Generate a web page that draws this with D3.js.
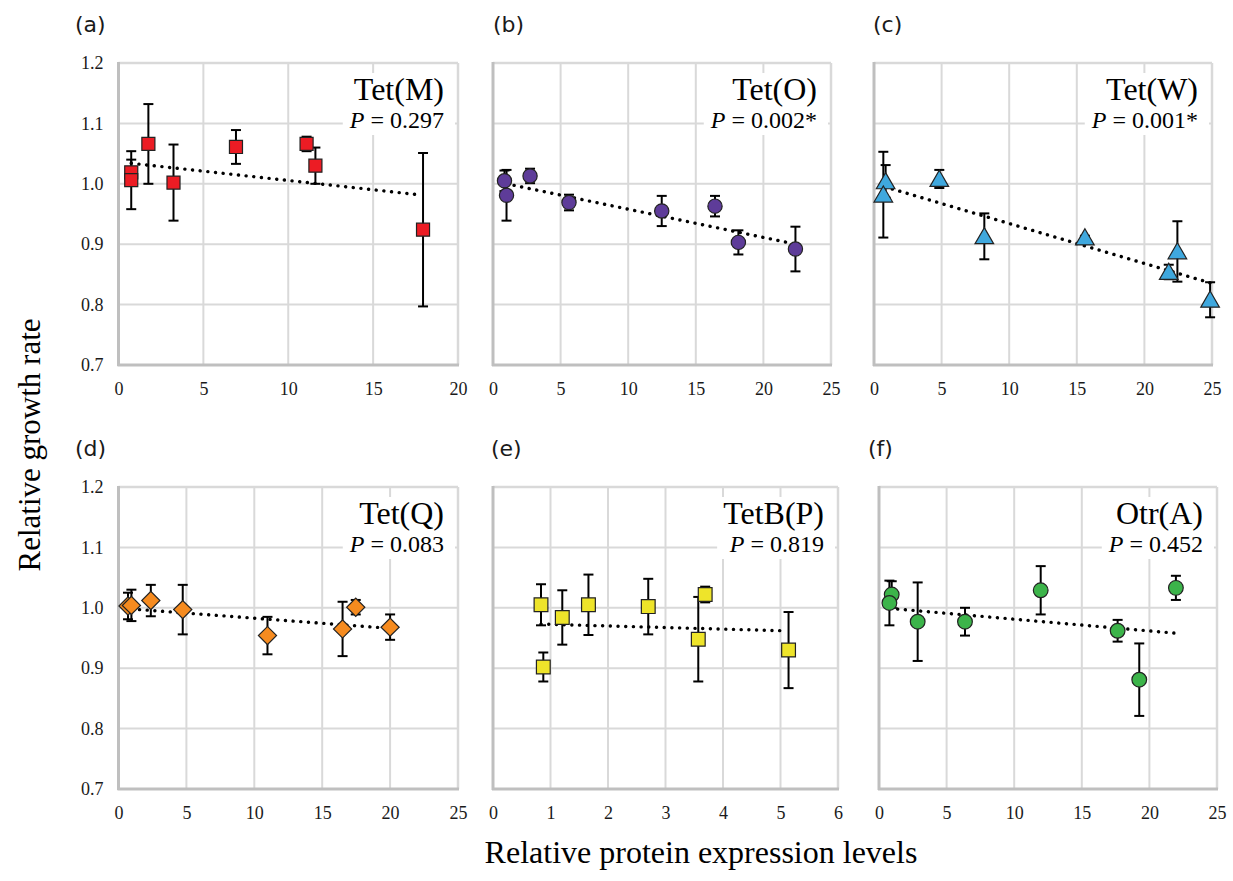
<!DOCTYPE html>
<head>
  <meta charset="utf-8">
  <script src="https://d3js.org/d3.v7.min.js"></script>
  <style>
    body { margin:0; background:#fff; }
    svg { display:block; }
  </style>
</head>
<body>
  <script>
    // panel names, P values, x ranges
    var panelTags = ["(a)", "(b)", "(c)", "(d)", "(e)", "(f)"];
    var proteins = ["Tet(M)", "Tet(O)", "Tet(W)", "Tet(Q)", "TetB(P)", "Otr(A)"];
    var pValues = ["0.297", "0.002*", "0.001*", "0.083", "0.819", "0.452"];
    var xMaxes = [20, 25, 25, 25, 6, 25];
    var xSteps = [5, 5, 5, 5, 1, 5];
    var yTicks = [0.7, 0.8, 0.9, 1.0, 1.1, 1.2];

    // (a) Tet(M)
    var tetM_x = [0.75, 0.75, 1.76, 3.24, 6.92, 11.08, 11.6, 17.94];
    var tetM_y = [1.019, 1.006, 1.066, 1.002, 1.061, 1.066, 1.030, 0.924];
    var tetM_e = [0.021, 0.048, 0.066, 0.063, 0.028, 0.012, 0.030, 0.127];
    var tetM_trend = [[0.75, 1.034], [17.65, 0.982]];

    // (b) Tet(O)
    var tetO_x = [0.85, 1.0, 2.74, 5.62, 12.48, 16.42, 18.15, 22.37];
    var tetO_y = [1.005, 0.981, 1.013, 0.969, 0.955, 0.963, 0.903, 0.892];
    var tetO_e = [0.017, 0.042, 0.012, 0.013, 0.025, 0.017, 0.02, 0.037];
    var tetO_trend = [[1.0, 1.0], [21.97, 0.902]];

    // (c) Tet(W)
    var tetW_x = [0.86, 0.69, 4.83, 8.16, 15.6, 21.8, 22.44, 24.86];
    var tetW_y = [1.004, 0.982, 1.008, 0.913, 0.911, 0.854, 0.888, 0.808];
    var tetW_e = [0.027, 0.071, 0.015, 0.038, 0.003, 0.012, 0.05, 0.029];
    var tetW_trend = [[0.81, 0.995], [24.86, 0.836]];

    // (d) Tet(Q)
    var tetQ_x = [0.7, 0.95, 2.38, 4.73, 10.97, 16.5, 17.47, 20.0];
    var tetQ_y = [1.003, 1.004, 1.012, 0.997, 0.954, 0.965, 1.001, 0.968];
    var tetQ_e = [0.022, 0.026, 0.026, 0.041, 0.031, 0.045, 0.012, 0.021];
    var tetQ_trend = [[0.98, 0.998], [20.0, 0.966]];

    // (e) TetB(P)
    var tetBP_x = [0.835, 0.875, 1.205, 1.66, 2.70, 3.69, 3.57, 5.14];
    var tetBP_y = [1.005, 0.902, 0.984, 1.005, 1.002, 1.022, 0.948, 0.930];
    var tetBP_e = [0.034, 0.024, 0.045, 0.05, 0.046, 0.013, 0.07, 0.063];
    var tetBP_trend = [[0.835, 0.973], [5.05, 0.962]];

    // (f) Otr(A)
    var otrA_x = [0.94, 0.77, 2.86, 6.36, 11.96, 17.65, 19.25, 21.96];
    var otrA_y = [1.022, 1.008, 0.977, 0.977, 1.029, 0.962, 0.881, 1.033];
    var otrA_e = [0.022, 0.037, 0.065, 0.023, 0.04, 0.018, 0.06, 0.02];
    var otrA_trend = [[0.81, 0.999], [21.9, 0.958]];

    var seriesX = [tetM_x, tetO_x, tetW_x, tetQ_x, tetBP_x, otrA_x];
    var seriesY = [tetM_y, tetO_y, tetW_y, tetQ_y, tetBP_y, otrA_y];
    var seriesE = [tetM_e, tetO_e, tetW_e, tetQ_e, tetBP_e, otrA_e];
    var trends = [tetM_trend, tetO_trend, tetW_trend, tetQ_trend, tetBP_trend, otrA_trend];

    // look
    var fills = ["#ec1c24", "#5e3c99", "#3fa8de", "#f68b1f", "#eee42a", "#3cb44a"];
    var shapes = [d3.symbolSquare, d3.symbolCircle, d3.symbolTriangle, d3.symbolSquare, d3.symbolSquare, d3.symbolCircle];
    var shapeRot = [0, 0, 0, 45, 0, 0];
    var shapeSizes = [170, 160, 150, 165, 190, 170];

    // layout
    var width = 1233, height = 881;
    var lefts = [118.5, 493, 874, 118.5, 493, 879];
    var rights = [458, 831, 1212, 458, 838, 1217];
    var tops = [63, 63, 63, 487, 487, 487];
    var plotH = 302;
    var tagX = [75, 493, 873, 75, 491, 868];

    var serif = "'Liberation Serif', 'Times New Roman', serif";
    var gridCol = "#d9d9d9", axisCol = "#bfbfbf";

    var svg = d3.select("body").append("svg")
      .attr("width", width)
      .attr("height", height);

    proteins.forEach(function(name, i) {
      var x = d3.scaleLinear().domain([0, xMaxes[i]]).range([lefts[i], rights[i]]);
      var y = d3.scaleLinear().domain([0.7, 1.2]).range([tops[i] + plotH, tops[i]]);
      var g = svg.append("g");
      var xt = d3.range(0, xMaxes[i] + 0.001, xSteps[i]);

      // grid
      g.selectAll(".vg").data(xt).enter().append("line")
        .attr("x1", d => x(d)).attr("x2", d => x(d))
        .attr("y1", y(0.7)).attr("y2", y(1.2))
        .attr("stroke", gridCol).attr("stroke-width", 2);
      g.selectAll(".hg").data(yTicks).enter().append("line")
        .attr("x1", x(0)).attr("x2", x(xMaxes[i]))
        .attr("y1", d => y(d)).attr("y2", d => y(d))
        .attr("stroke", gridCol).attr("stroke-width", 2);

      // label box with white background
      var lab = g.append("g");
      var t1 = lab.append("text")
        .attr("x", rights[i] - 14).attr("y", tops[i] + 37)
        .attr("text-anchor", "end")
        .style("font-family", serif).style("font-size", "32px")
        .text(name);
      var t2 = lab.append("text")
        .attr("x", rights[i] - 14).attr("y", tops[i] + 65)
        .attr("text-anchor", "end")
        .style("font-family", serif).style("font-size", "24px");
      t2.append("tspan").style("font-style", "italic").text("P");
      t2.append("tspan").text(" = " + pValues[i]);
      var b1 = t1.node().getBBox(), b2 = t2.node().getBBox();
      var bx = Math.min(b1.x, b2.x) - 6;
      lab.insert("rect", "text")
        .attr("x", bx).attr("y", b1.y + 2)
        .attr("width", rights[i] - 3 - bx)
        .attr("height", b2.y + b2.height - b1.y)
        .attr("fill", "#fff");

      // frame
      g.append("line").attr("x1", x(0)).attr("x2", x(xMaxes[i]))
        .attr("y1", y(1.2)).attr("y2", y(1.2))
        .attr("stroke", gridCol).attr("stroke-width", 2.5);
      g.append("line").attr("x1", x(xMaxes[i])).attr("x2", x(xMaxes[i]))
        .attr("y1", y(1.2)).attr("y2", y(0.7))
        .attr("stroke", gridCol).attr("stroke-width", 2.5);
      g.append("line").attr("x1", x(0)).attr("x2", x(0))
        .attr("y1", y(1.2) - 1).attr("y2", y(0.7) + 1)
        .attr("stroke", axisCol).attr("stroke-width", 3);
      g.append("line").attr("x1", x(0) - 1).attr("x2", x(xMaxes[i]) + 1)
        .attr("y1", y(0.7)).attr("y2", y(0.7))
        .attr("stroke", axisCol).attr("stroke-width", 3);

      // tick labels
      var xAxis = d3.axisBottom(x).tickValues(xt).tickSize(0).tickPadding(17)
        .tickFormat(d3.format("d"));
      var ax = g.append("g").attr("transform", "translate(0," + y(0.7) + ")").call(xAxis);
      ax.select(".domain").remove();
      ax.selectAll("text").style("font-family", serif).style("font-size", "18px").attr("fill", "#1a1a1a");
      if (i % 3 === 0) {
        var yAxis = d3.axisLeft(y).tickValues(yTicks).tickSize(0).tickPadding(15)
          .tickFormat(d3.format(".1f"));
        var ay = g.append("g").attr("transform", "translate(" + x(0) + ",0)").call(yAxis);
        ay.select(".domain").remove();
        ay.selectAll("text").style("font-family", serif).style("font-size", "18px").attr("fill", "#1a1a1a");
      }

      // panel tag
      g.append("text").attr("x", tagX[i]).attr("y", tops[i] - 31)
        .style("font-family", "'DejaVu Sans', sans-serif").style("font-size", "22px")
        .attr("fill", "#1a1a1a")
        .text(panelTags[i]);

      // trend line
      g.append("line")
        .attr("x1", x(trends[i][0][0])).attr("y1", y(trends[i][0][1]))
        .attr("x2", x(trends[i][1][0])).attr("y2", y(trends[i][1][1]))
        .attr("stroke", "#000").attr("stroke-width", 3.4)
        .attr("stroke-linecap", "round").attr("stroke-dasharray", "0.1 7.6");

      var pts = seriesX[i].map(function(v, k) {
        return { x: v, y: seriesY[i][k], e: seriesE[i][k] };
      });

      // error bars
      var eb = g.selectAll(".eb").data(pts).enter().append("g");
      eb.append("line")
        .attr("x1", d => x(d.x)).attr("x2", d => x(d.x))
        .attr("y1", d => y(d.y + d.e)).attr("y2", d => y(d.y - d.e))
        .attr("stroke", "#000").attr("stroke-width", 2);
      [1, -1].forEach(function(s) {
        eb.append("line")
          .attr("x1", d => x(d.x) - 5).attr("x2", d => x(d.x) + 5)
          .attr("y1", d => y(d.y + s * d.e)).attr("y2", d => y(d.y + s * d.e))
          .attr("stroke", "#000").attr("stroke-width", 2);
      });

      // markers
      var sym = d3.symbol().type(shapes[i]).size(shapeSizes[i]);
      g.selectAll(".mk").data(pts).enter().append("path")
        .attr("d", sym)
        .attr("transform", function(d) {
          var dy = shapes[i] === d3.symbolTriangle ? 2 : 0;
          return "translate(" + x(d.x) + "," + (y(d.y) + dy) + ") rotate(" + shapeRot[i] + ")";
        })
        .attr("fill", fills[i])
        .attr("stroke", "#222").attr("stroke-width", 1.2);
    });

    // axis titles
    svg.append("text")
      .attr("transform", "translate(40,445) rotate(-90)")
      .attr("text-anchor", "middle")
      .style("font-family", serif).style("font-size", "31px")
      .text("Relative growth rate");
    svg.append("text")
      .attr("x", 701).attr("y", 863)
      .attr("text-anchor", "middle")
      .style("font-family", serif).style("font-size", "32px")
      .text("Relative protein expression levels");
  </script>
</body>
